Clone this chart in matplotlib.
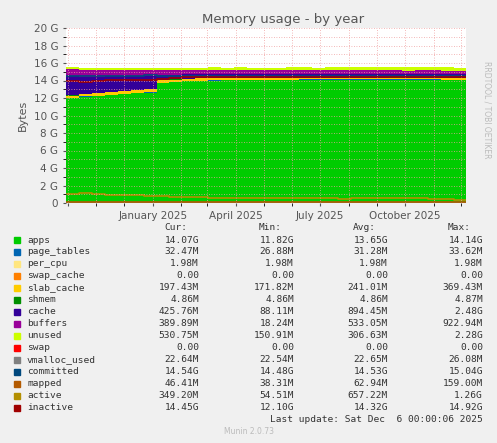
import matplotlib
matplotlib.use("Agg")
import matplotlib.pyplot as plt
import matplotlib.dates as mdates
import numpy as np
import pandas as pd

G = 1024**3
dates = pd.date_range("2024-09-29", periods=31, freq="14D")
apps = [12.0,12.15,12.25,12.35,12.45,12.55,12.62,13.7,13.8,13.9,13.95,14.0,14.02,14.05,14.06,14.07,14.08,14.08,14.09,14.09,14.1,14.1,14.1,14.1,14.1,14.11,14.1,14.1,14.09,14.08,14.07]
page_tables = [0.03]*31
per_cpu = [0.002]*31
swap_cache = [0.0]*31
slab_cache = [0.25,0.26,0.27,0.28,0.3,0.32,0.34,0.3,0.28,0.26,0.25,0.24,0.23,0.22,0.22,0.21,0.21,0.2,0.2,0.2,0.2,0.2,0.2,0.2,0.2,0.2,0.2,0.2,0.2,0.2,0.19]
shmem = [0.005]*31
cache = [2.2,2.0,1.9,1.8,1.7,1.6,1.5,0.6,0.55,0.5,0.45,0.45,0.42,0.42,0.4,0.4,0.4,0.4,0.4,0.4,0.4,0.4,0.4,0.4,0.4,0.4,0.4,0.42,0.42,0.42,0.42]
buffers = [0.8,0.8,0.75,0.75,0.75,0.72,0.7,0.6,0.55,0.5,0.5,0.48,0.47,0.46,0.45,0.45,0.45,0.45,0.44,0.43,0.42,0.42,0.42,0.42,0.42,0.4,0.4,0.4,0.4,0.39,0.38]
unused = [0.2,0.2,0.22,0.22,0.2,0.2,0.22,0.2,0.22,0.25,0.25,0.28,0.28,0.3,0.3,0.3,0.3,0.32,0.32,0.32,0.33,0.33,0.33,0.33,0.34,0.34,0.35,0.33,0.34,0.36,0.38]
swap = [0.0]*31
vmalloc_used = [0.022]*31
committed = [14.5,14.52,14.55,14.5,14.53,14.55,14.6,14.5,14.5,14.52,14.53,14.52,14.53,14.53,14.54,14.53,14.52,14.53,14.54,14.53,14.53,14.52,14.54,14.55,14.53,14.55,14.53,14.54,14.55,14.55,14.54]
mapped = [0.06]*31
active = [1.0,1.1,1.0,0.95,0.9,0.88,0.85,0.75,0.7,0.7,0.65,0.62,0.6,0.6,0.6,0.58,0.58,0.55,0.55,0.55,0.52,0.5,0.52,0.55,0.58,0.6,0.6,0.55,0.5,0.45,0.35]
inactive = [13.9,13.85,14.0,14.05,14.1,14.1,14.1,14.2,14.3,14.35,14.38,14.4,14.4,14.38,14.36,14.38,14.4,14.38,14.36,14.38,14.36,14.35,14.35,14.4,14.38,14.4,14.45,14.45,14.45,14.45,14.45]

stack = [("apps",apps,"#00CC00"),("page_tables",page_tables,"#0066B3"),("per_cpu",per_cpu,"#FFE680"),
         ("swap_cache",swap_cache,"#FF8000"),("slab_cache",slab_cache,"#FFCC00"),("shmem",shmem,"#008F00"),
         ("cache",cache,"#330099"),("buffers",buffers,"#990099"),("unused",unused,"#CCFF00"),("swap",swap,"#FF0000")]
lines = [("vmalloc_used",vmalloc_used,"#808080"),("committed",committed,"#00487D"),("mapped",mapped,"#B35A00"),
         ("active",active,"#B38F00"),("inactive",inactive,"#A00000")]
legend_rows = [["14.07G","11.82G","13.65G","14.14G"],["32.47M","26.88M","31.28M","33.62M"],
 ["1.98M","1.98M","1.98M","1.98M"],["0.00","0.00","0.00","0.00"],["197.43M","171.82M","241.01M","369.43M"],
 ["4.86M","4.86M","4.86M","4.87M"],["425.76M","88.11M","894.45M","2.48G"],["389.89M","18.24M","533.05M","922.94M"],
 ["530.75M","150.91M","306.63M","2.28G"],["0.00","0.00","0.00","0.00"],["22.64M","22.54M","22.65M","26.08M"],
 ["14.54G","14.48G","14.53G","15.04G"],["46.41M","38.31M","62.94M","159.00M"],["349.20M","54.51M","657.22M","1.26G"],
 ["14.45G","12.10G","14.32G","14.92G"]]

# extend by one step so the last value covers up to the right edge
xs = list(dates) + [dates[-1] + pd.Timedelta(days=14)]
ext = lambda v: np.array(list(v) + [v[-1]]) * G

W,H=497,443
fig = plt.figure(figsize=(W/100,H/100),dpi=100,facecolor="#F0F0F0")
ax = fig.add_axes([66/W,1-203/H,400/W,175/H],facecolor="white")
ax.stackplot(xs,*[ext(v) for _,v,_ in stack],colors=[c for _,_,c in stack],step="post",linewidth=0)
for _,v,c in lines:
    ax.step(xs,ext(v),where="post",color=c,lw=1.2)
ax.set_xlim(pd.Timestamp("2024-09-29"),pd.Timestamp("2025-12-06"))
ax.set_ylim(0,20*G)
ax.set_yticks([i*2*G for i in range(11)])
ax.set_yticklabels(["0"]+[f"{2*i} G" for i in range(1,11)])
ax.set_yticks([i*G for i in range(21)],minor=True)
ax.xaxis.set_major_locator(mdates.MonthLocator(bymonth=[1,4,7,10]))
ax.xaxis.set_major_formatter(plt.FuncFormatter(
    lambda x,p: "" if mdates.num2date(x).year < 2025 else mdates.num2date(x).strftime("%B %Y")))
ax.xaxis.set_minor_locator(mdates.MonthLocator())
ax.grid(True,which="both",color="#F0A0A0",ls=(0,(1,2)),lw=0.6)
ax.set_axisbelow(False)
ax.tick_params(labelsize=7.5,colors="#555555",length=2)
for s in ax.spines.values(): s.set_visible(False)
ax.set_ylabel("Bytes",fontsize=8,color="#555555")
fig.text(283/W,1-19/H,"Memory usage - by year",ha="center",va="center",fontsize=9.5,color="#555555")
fig.text(487/W,1-110/H,"RRDTOOL / TOBI OETIKER",rotation=270,ha="center",va="center",fontsize=5.5,color="#BBBBBB")
mono=dict(family="DejaVu Sans Mono",fontsize=6.8,color="#333333",va="center")
cols=[199,294,388,483]
for x,h in zip(cols,["Cur:","Min:","Avg:","Max:"]):
    fig.text((x-12)/W,1-227/H,h,ha="right",**mono)
allitems=stack+lines
for i,((name,_,c),row) in enumerate(zip(allitems,legend_rows)):
    y=1-(240+12*i)/H
    fig.patches.append(plt.Rectangle((14/W,y-3/H),6/W,6/H,transform=fig.transFigure,color=c))
    fig.text(27/W,y,name,ha="left",**mono)
    for x,v in zip(cols,row):
        fig.text(x/W,y,v,ha="right",**mono)
fig.text(483/W,1-420/H,"Last update: Sat Dec  6 00:00:06 2025",ha="right",**mono)
fig.text(249/W,1-432/H,"Munin 2.0.73",ha="center",va="center",fontsize=5.5,color="#BBBBBB")
fig.savefig("out.png",dpi=100,facecolor=fig.get_facecolor())
